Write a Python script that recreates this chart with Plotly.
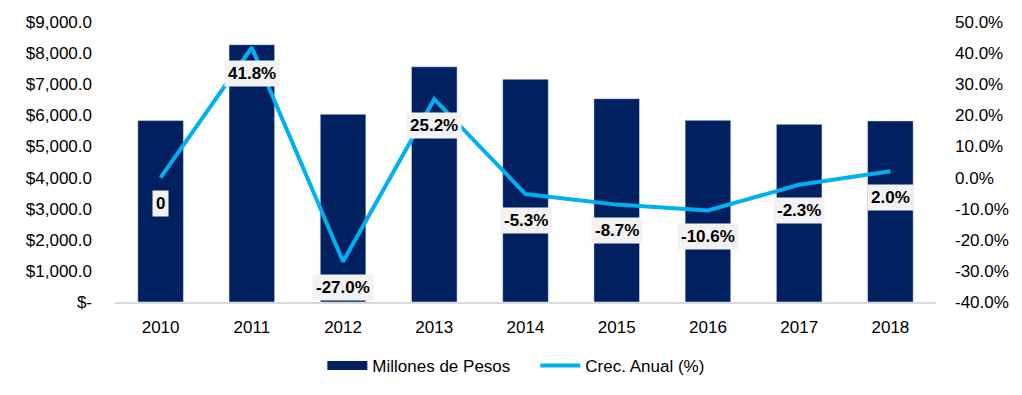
import plotly.graph_objects as go

years = ["2010", "2011", "2012", "2013", "2014", "2015", "2016", "2017", "2018"]
millones = [5830, 8270, 6035, 7560, 7160, 6535, 5840, 5710, 5820]
crec = [0.0, 41.8, -27.0, 25.2, -5.3, -8.7, -10.6, -2.3, 2.0]
crec_labels = ["0", "41.8%", "-27.0%", "25.2%", "-5.3%", "-8.7%", "-10.6%", "-2.3%", "2.0%"]

left_ticks = [0, 1000, 2000, 3000, 4000, 5000, 6000, 7000, 8000, 9000]
left_text = ["$-"] + ["${:,.1f}".format(v) for v in left_ticks[1:]]
right_ticks = [-40, -30, -20, -10, 0, 10, 20, 30, 40, 50]
right_text = ["{:.1f}%".format(v) for v in right_ticks]

FONT = "Liberation Sans"
NAVY = "#00205F"
CYAN = "#00B0F0"
fig = go.Figure()
fig.add_trace(go.Bar(x=years, y=millones, name="Millones de Pesos",
                     marker_color=NAVY, width=0.5, showlegend=False))
# legend stand-in for the bar series (wide rectangle swatch)
fig.add_trace(go.Scatter(x=[None], y=[None], mode="lines", name="Millones de Pesos",
                         line=dict(color=NAVY, width=9)))
fig.add_trace(go.Scatter(x=years, y=crec, name="Crec. Anual (%)", yaxis="y2",
                         mode="lines", line=dict(color=CYAN, width=4)))

for i, (y, t) in enumerate(zip(crec, crec_labels)):
    fig.add_annotation(x=i, y=y, xref="x", yref="y2", text="<b>%s</b>" % t,
                       showarrow=False, yshift=-26, bgcolor="#F2F2F2",
                       borderpad=3, font=dict(size=17, color="#000000", family=FONT))

fig.update_layout(
    width=1014, height=387,
    margin=dict(l=107, r=86, t=14, b=93, autoexpand=False),
    plot_bgcolor="white", paper_bgcolor="white",
    font=dict(family=FONT, size=17, color="#000000"),
    xaxis=dict(type="category", range=[-0.5, 8.5], showline=True, linecolor="#D9D9D9",
               linewidth=2, ticks="", showgrid=False, ticklabelstandoff=9,
               automargin=False),
    yaxis=dict(range=[0, 9000], tickvals=left_ticks, ticktext=left_text,
               showgrid=False, zeroline=False, ticks="", ticklabelstandoff=22,
               automargin=False),
    yaxis2=dict(range=[-40, 50], tickvals=right_ticks, ticktext=right_text,
                overlaying="y", side="right", showgrid=False, zeroline=False,
                ticks="", ticklabelstandoff=18, automargin=False),
    legend=dict(orientation="h", xref="container", yref="container",
                x=0.31, xanchor="left", y=0.075, yanchor="middle",
                font=dict(size=17), itemwidth=40, entrywidth=158),
    showlegend=True,
)
fig.write_html("out.html")
